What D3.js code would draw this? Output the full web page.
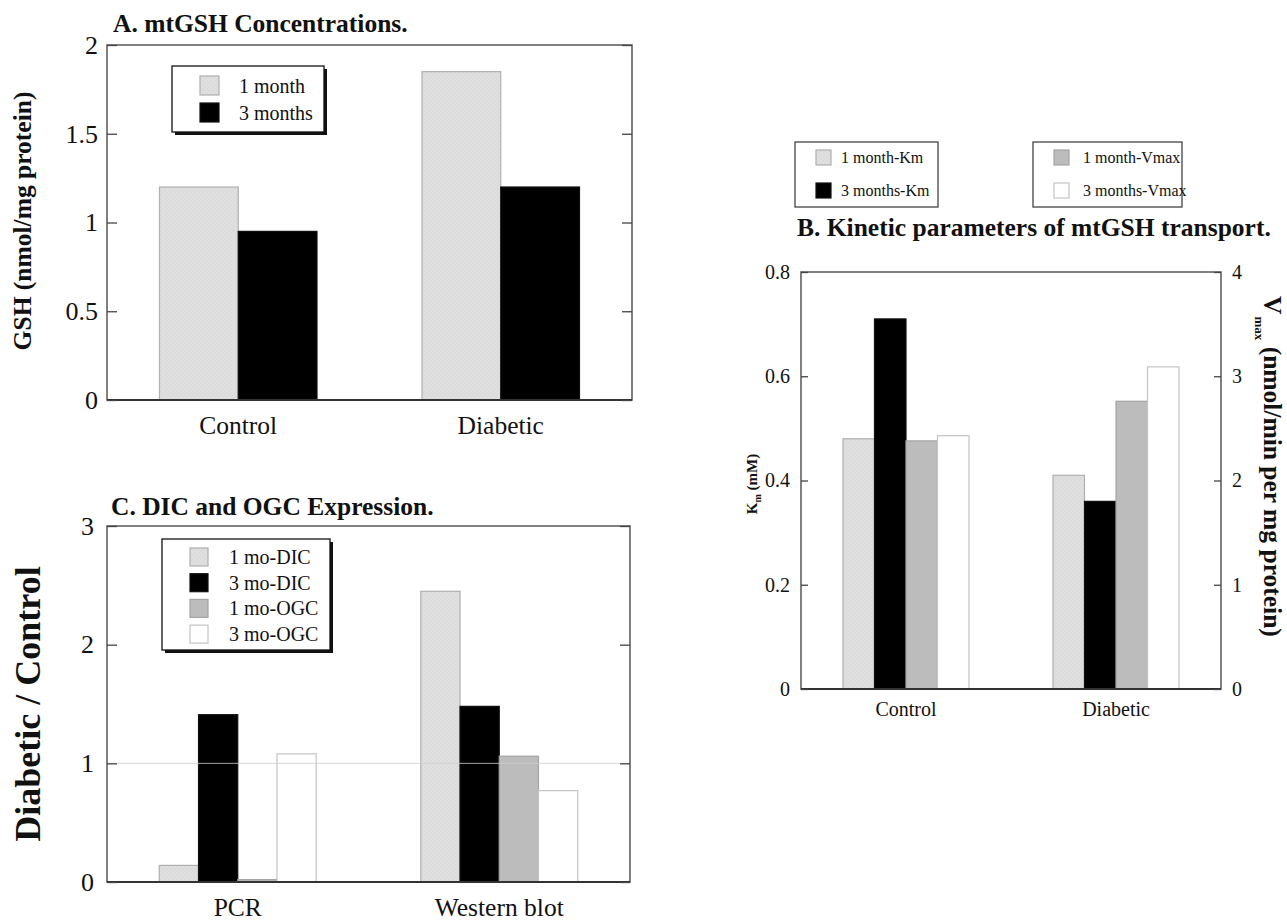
<!DOCTYPE html>
<html>
<head>
<meta charset="utf-8">
<script src="https://cdn.jsdelivr.net/npm/d3@7/dist/d3.min.js"></script>
<style>
  html, body { margin: 0; padding: 0; background: #fff; }
  svg { display: block; }
  text { font-family: "Liberation Serif", "Times New Roman", serif; fill: #111; }
</style>
</head>
<body>
<svg id="chart" width="1287" height="922"></svg>
<script>
// ---------- DATA ----------
// Panel A
const categoriesA = ["Control", "Diabetic"];
const seriesA = ["1 month", "3 months"];
const gsh1month = [1.20, 1.85];
const gsh3months = [0.95, 1.20];
const ticksA = [0, 0.5, 1, 1.5, 2];

// Panel B
const categoriesB = ["Control", "Diabetic"];
const seriesB = ["1 month-Km", "3 months-Km", "1 month-Vmax", "3 months-Vmax"];
const km1month = [0.48, 0.41];
const km3months = [0.71, 0.36];
const vmax1month = [2.38, 2.76];
const vmax3months = [2.43, 3.09];
const ticksKm = [0, 0.2, 0.4, 0.6, 0.8];
const ticksVmax = [0, 1, 2, 3, 4];

// Panel C
const categoriesC = ["PCR", "Western blot"];
const seriesC = ["1 mo-DIC", "3 mo-DIC", "1 mo-OGC", "3 mo-OGC"];
const dic1mo = [0.14, 2.45];
const dic3mo = [1.41, 1.48];
const ogc1mo = [0.02, 1.06];
const ogc3mo = [1.08, 0.77];
const ticksC = [0, 1, 2, 3];

// ---------- STYLES ----------
const styles = {
  light: { fill: "url(#hatch)", stroke: "#b0b0b0" },
  black: { fill: "#000", stroke: "#111" },
  mid:   { fill: "#bcbcbc", stroke: "#a4a4a4" },
  white: { fill: "#fff", stroke: "#c4c4c4" }
};

const svg = d3.select("#chart");
const defs = svg.append("defs");
const pat = defs.append("pattern").attr("id", "hatch").attr("patternUnits", "userSpaceOnUse")
  .attr("width", 4).attr("height", 4);
pat.append("rect").attr("width", 4).attr("height", 4).attr("fill", "#dfdfdf");
pat.append("path").attr("d", "M0,4 L4,0").attr("stroke", "#d8d8d8").attr("stroke-width", 1);

function drawPanel(cfg) {
  const g = svg.append("g");
  const x0 = d3.scaleBand().domain(cfg.categories).range([cfg.left, cfg.right])
    .paddingInner(0.4).paddingOuter(0.2);
  const x1 = d3.scaleBand().domain(cfg.series.map(s => s.name)).range([0, x0.bandwidth()]);

  cfg.series.forEach(s => {
    const y = s.scale;
    g.append("g").selectAll("rect").data(cfg.categories.map((c, i) => ({ c, v: s.values[i] })))
      .join("rect")
      .attr("x", d => x0(d.c) + x1(s.name))
      .attr("y", d => y(d.v))
      .attr("width", x1.bandwidth())
      .attr("height", d => y(0) - y(d.v))
      .attr("fill", styles[s.style].fill)
      .attr("stroke", styles[s.style].stroke)
      .attr("stroke-width", 1.2);
  });

  if (cfg.refLine) {
    const y = cfg.yLeft;
    g.append("line").attr("x1", cfg.left).attr("x2", cfg.right)
      .attr("y1", y(cfg.refLine)).attr("y2", y(cfg.refLine))
      .attr("stroke", "#cfcfcf").attr("stroke-width", 1).attr("opacity", 0.8);
  }

  g.append("rect").attr("x", cfg.left).attr("y", cfg.top)
    .attr("width", cfg.right - cfg.left).attr("height", cfg.bottom - cfg.top)
    .attr("fill", "none").attr("stroke", "#555").attr("stroke-width", 1.5);
  g.append("line").attr("x1", cfg.left).attr("x2", cfg.right)
    .attr("y1", cfg.bottom).attr("y2", cfg.bottom).attr("stroke", "#333").attr("stroke-width", 2);

  const axL = d3.axisLeft(cfg.yLeft).tickValues(cfg.ticksLeft).tickSize(-cfg.tickLen)
    .tickPadding(cfg.tickPad).tickFormat(d => String(d));
  const gl = g.append("g").attr("transform", `translate(${cfg.left},0)`).call(axL);
  gl.select(".domain").remove();
  gl.selectAll(".tick line").attr("stroke", "#444").attr("stroke-width", 1.3);
  gl.selectAll(".tick text").attr("font-size", cfg.tickFont).attr("fill", "#111")
    .style("font-family", "Liberation Serif");

  const yR = cfg.yRight || cfg.yLeft;
  const axR = d3.axisRight(yR).tickValues(cfg.ticksRight || cfg.ticksLeft).tickSize(-cfg.tickLen)
    .tickPadding(cfg.tickPad).tickFormat(d => String(d));
  const gr = g.append("g").attr("transform", `translate(${cfg.right},0)`).call(axR);
  gr.select(".domain").remove();
  gr.selectAll(".tick line").attr("stroke", "#444").attr("stroke-width", 1.3);
  if (cfg.yRight) {
    gr.selectAll(".tick text").attr("font-size", cfg.tickFont).attr("fill", "#111")
      .style("font-family", "Liberation Serif");
  } else {
    gr.selectAll(".tick text").remove();
  }

  g.append("g").selectAll("text").data(cfg.categories).join("text")
    .attr("x", d => x0(d) + x0.bandwidth() / 2)
    .attr("y", cfg.catY)
    .attr("text-anchor", "middle")
    .attr("font-size", cfg.catFont)
    .text(d => d);

  g.append("text").attr("x", cfg.titleX).attr("y", cfg.titleY)
    .attr("font-size", 25.5).attr("font-weight", "bold").text(cfg.title);
  return g;
}

function legend(items, box, opts) {
  const g = svg.append("g");
  if (opts.shadow) {
    g.append("rect").attr("x", box.x + 3).attr("y", box.y + 3).attr("width", box.w).attr("height", box.h)
      .attr("fill", "#111");
  }
  g.append("rect").attr("x", box.x).attr("y", box.y).attr("width", box.w).attr("height", box.h)
    .attr("fill", "#fff").attr("stroke", opts.shadow ? "#111" : "#444").attr("stroke-width", 1.3);
  items.forEach((it, i) => {
    const yy = opts.firstY + i * opts.step;
    g.append("rect").attr("x", opts.swX).attr("y", yy).attr("width", opts.sw).attr("height", opts.sw)
      .attr("fill", styles[it.style].fill).attr("stroke", styles[it.style].stroke).attr("stroke-width", 1.2);
    g.append("text").attr("x", opts.textX).attr("y", yy + opts.sw - 2)
      .attr("font-size", opts.font).text(it.name);
  });
}

// ---------- PANEL A ----------
const yA = d3.scaleLinear().domain([0, 2]).range([400, 45]);
drawPanel({
  left: 107, right: 632, top: 45, bottom: 400,
  categories: categoriesA,
  series: [
    { name: seriesA[0], values: gsh1month, scale: yA, style: "light" },
    { name: seriesA[1], values: gsh3months, scale: yA, style: "black" }
  ],
  yLeft: yA, ticksLeft: ticksA, tickLen: 10, tickPad: 9, tickFont: 26,
  catY: 434, catFont: 25.5,
  title: "A. mtGSH Concentrations.", titleX: 113, titleY: 32
});
svg.append("text").attr("transform", `translate(31,${221}) rotate(-90)`)
  .attr("text-anchor", "middle").attr("font-size", 25.5).attr("font-weight", "bold")
  .text("GSH (nmol/mg protein)");
legend([{ name: seriesA[0], style: "light" }, { name: seriesA[1], style: "black" }],
  { x: 172, y: 66, w: 152, h: 66 },
  { shadow: true, swX: 200, sw: 19, firstY: 76, step: 27, textX: 239, font: 20 });

// ---------- PANEL B ----------
const yKm = d3.scaleLinear().domain([0, 0.8]).range([689, 272]);
const yV = d3.scaleLinear().domain([0, 4]).range([689, 272]);
drawPanel({
  left: 801, right: 1221, top: 272, bottom: 689,
  categories: categoriesB,
  series: [
    { name: seriesB[0], values: km1month, scale: yKm, style: "light" },
    { name: seriesB[1], values: km3months, scale: yKm, style: "black" },
    { name: seriesB[2], values: vmax1month, scale: yV, style: "mid" },
    { name: seriesB[3], values: vmax3months, scale: yV, style: "white" }
  ],
  yLeft: yKm, ticksLeft: ticksKm, yRight: yV, ticksRight: ticksVmax,
  tickLen: 7, tickPad: 11, tickFont: 20,
  catY: 716, catFont: 20,
  title: "B. Kinetic parameters of mtGSH transport.", titleX: 797, titleY: 236
});
const kmLab = svg.append("text").attr("transform", `translate(757,${484}) rotate(-90)`)
  .attr("text-anchor", "middle").attr("font-size", 15).attr("font-weight", "bold");
kmLab.append("tspan").text("K");
kmLab.append("tspan").attr("font-size", 10).attr("dy", 4).text("m");
kmLab.append("tspan").attr("dy", -4).text(" (mM)");
const vLab = svg.append("text").attr("transform", `translate(1264,296) rotate(90)`)
  .attr("text-anchor", "start").attr("font-size", 25.5).attr("font-weight", "bold");
vLab.append("tspan").text("V");
vLab.append("tspan").attr("font-size", 13).attr("dy", 9).attr("dx", 2).text("max");
vLab.append("tspan").attr("dy", -9).text(" (nmol/min per mg protein)");

legend([{ name: seriesB[0], style: "light" }, { name: seriesB[1], style: "black" }],
  { x: 795, y: 142, w: 143, h: 65 },
  { shadow: false, swX: 816, sw: 15, firstY: 150, step: 33, textX: 841, font: 16 });
legend([{ name: seriesB[2], style: "mid" }, { name: seriesB[3], style: "white" }],
  { x: 1033, y: 142, w: 149, h: 65 },
  { shadow: false, swX: 1054, sw: 15, firstY: 150, step: 33, textX: 1083, font: 16 });

// ---------- PANEL C ----------
const yC = d3.scaleLinear().domain([0, 3]).range([882, 526]);
drawPanel({
  left: 107, right: 630, top: 526, bottom: 882,
  categories: categoriesC,
  series: [
    { name: seriesC[0], values: dic1mo, scale: yC, style: "light" },
    { name: seriesC[1], values: dic3mo, scale: yC, style: "black" },
    { name: seriesC[2], values: ogc1mo, scale: yC, style: "mid" },
    { name: seriesC[3], values: ogc3mo, scale: yC, style: "white" }
  ],
  yLeft: yC, ticksLeft: ticksC, tickLen: 10, tickPad: 13, tickFont: 26,
  catY: 916, catFont: 25.5, refLine: 1,
  title: "C. DIC and OGC Expression.", titleX: 111, titleY: 515
});
svg.append("text").attr("transform", `translate(40,${704}) rotate(-90)`)
  .attr("text-anchor", "middle").attr("font-size", 36).attr("font-weight", "bold")
  .text("Diabetic / Control");
legend(seriesC.map((s, i) => ({ name: s, style: ["light", "black", "mid", "white"][i] })),
  { x: 162, y: 539, w: 168, h: 111 },
  { shadow: true, swX: 190, sw: 18, firstY: 548, step: 25.7, textX: 229, font: 20 });
</script>
</body>
</html>
